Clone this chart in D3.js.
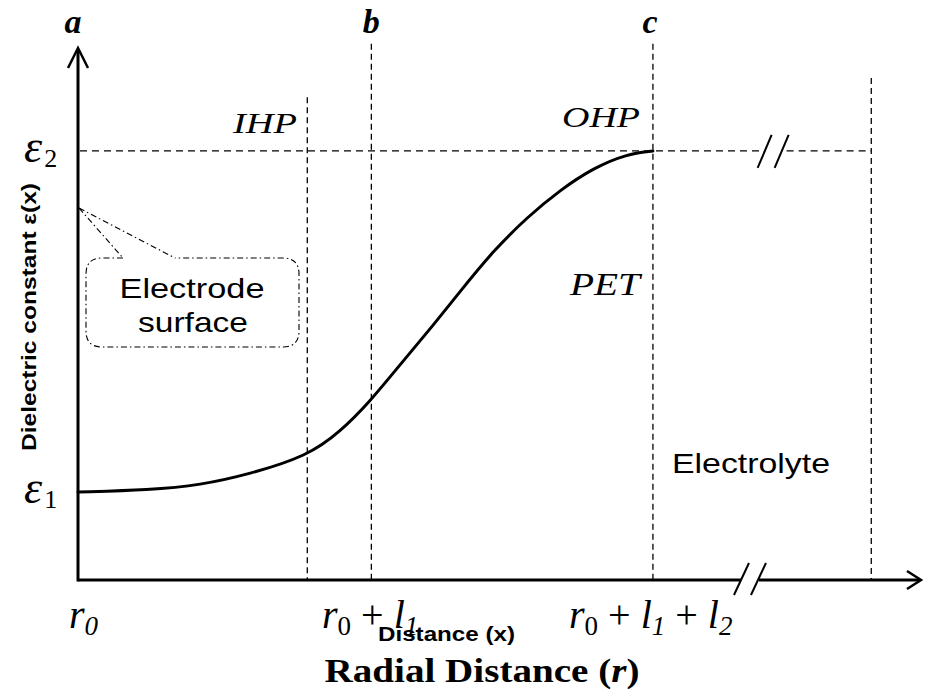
<!DOCTYPE html>
<html>
<head>
<meta charset="utf-8">
<script src="https://cdn.jsdelivr.net/npm/d3@7/dist/d3.min.js"></script>
<style>
  html, body { margin: 0; padding: 0; background: #fff; }
  svg { display: block; }
</style>
</head>
<body>
<svg id="chart" width="926" height="696"></svg>
<script>
// Radial distance (arbitrary units) and dielectric constant profile
const curveR   = [0, 0.85, 1.45, 2.04, 2.72, 3.11, 3.48, 3.74, 4.14, 4.53, 4.92, 5.33, 5.72, 6.11, 6.51, 6.82];
const curveEps = [2.05, 2.10, 2.21, 2.47, 2.89, 3.45, 4.20, 4.83, 5.76, 6.72, 7.66, 8.46, 9.09, 9.60, 9.93, 10];

// Boundary planes: IHP, b (r0 + l1), c (r0 + l1 + l2), far electrolyte
const planeNames = ["IHP", "b", "c", "far"];
const planePos   = [2.72, 3.48, 6.82, 9.41];
const planeTop   = [11.25, 12.5, 12.5, 11.7];

// Dielectric constant levels
const epsNames  = ["ε1", "ε2"];
const epsLevels = [2.05, 10];

// Axis extents
const rMax = 10;
const epsMax = 12.4;

const svg = d3.select("#chart");
const x = d3.scaleLinear().domain([0, rMax]).range([78, 921]);
const y = d3.scaleLinear().domain([0, epsMax]).range([580, 48]);

const serif = "'Liberation Serif', 'Times New Roman', serif";
const sans  = "'Liberation Sans', Arial, sans-serif";

// ---- dashed guide lines ----
const g = svg.append("g");
planePos.forEach((p, i) => {
  g.append("line")
    .attr("x1", x(p)).attr("x2", x(p))
    .attr("y1", y(planeTop[i])).attr("y2", y(0))
    .attr("stroke", "#000").attr("stroke-width", 1.3)
    .attr("stroke-dasharray", "6,4");
});

// ε2 level with a break
const brk = 8.24; // position of the break on the ε2 line
g.append("line")
  .attr("x1", x(0) + 2).attr("x2", x(brk) - 8)
  .attr("y1", y(epsLevels[1])).attr("y2", y(epsLevels[1]))
  .attr("stroke", "#000").attr("stroke-width", 1.3).attr("stroke-dasharray", "7,5");
g.append("line")
  .attr("x1", x(brk) + 14).attr("x2", x(planePos[3]))
  .attr("y1", y(epsLevels[1])).attr("y2", y(epsLevels[1]))
  .attr("stroke", "#000").attr("stroke-width", 1.3).attr("stroke-dasharray", "7,5");
[-8, 9].forEach(dx => {
  g.append("line")
    .attr("x1", x(brk) + dx - 7).attr("y1", y(epsLevels[1]) + 17)
    .attr("x2", x(brk) + dx + 7).attr("y2", y(epsLevels[1]) - 16)
    .attr("stroke", "#000").attr("stroke-width", 2);
});

// ---- axes ----
const axis = svg.append("g").attr("stroke", "#000").attr("fill", "none")
  .attr("stroke-width", 3);
axis.append("line").attr("x1", x(0)).attr("x2", x(0)).attr("y1", y(0) + 1.5).attr("y2", y(epsMax) + 1);
// x axis with a break
const xb = 7.9;
axis.append("line").attr("x1", x(0)).attr("x2", x(xb) - 3).attr("y1", y(0)).attr("y2", y(0));
axis.append("line").attr("x1", x(xb) + 15).attr("x2", x(rMax) - 1).attr("y1", y(0)).attr("y2", y(0));
[-2, 15].forEach(dx => {
  axis.append("line")
    .attr("x1", x(xb) + dx - 8).attr("y1", y(0) + 15)
    .attr("x2", x(xb) + dx + 7).attr("y2", y(0) - 17)
    .attr("stroke-width", 2);
});
// arrowheads
axis.append("path")
  .attr("d", `M${x(0) - 10},${y(epsMax) + 20} L${x(0)},${y(epsMax)} L${x(0) + 10},${y(epsMax) + 20}`)
  .attr("stroke-width", 2.5).attr("stroke-linejoin", "miter");
axis.append("path")
  .attr("d", `M${x(rMax) - 14},${y(0) - 9} L${x(rMax)},${y(0)} L${x(rMax) - 14},${y(0) + 9}`)
  .attr("stroke-width", 2.5).attr("stroke-linejoin", "miter");

// ---- dielectric profile ----
const pts = curveR.map((r, i) => [r, curveEps[i]]);
svg.append("path")
  .datum(pts)
  .attr("fill", "none").attr("stroke", "#000").attr("stroke-width", 3)
  .attr("stroke-linecap", "round")
  .attr("d", d3.line().x(d => x(d[0])).y(d => y(d[1])).curve(d3.curveBasis));

// ---- electrode surface callout ----
const ax = x(0) + 1, ay = y(8.67);
const call = svg.append("g").attr("fill", "none").attr("stroke", "#000")
  .attr("stroke-width", 1.1).attr("stroke-dasharray", "6,3,1.5,3");
call.append("path").attr("d", `M${ax},${ay} L${ax + 44},${ay + 50}`);
call.append("path").attr("d", `M${ax},${ay} L${ax + 96},${ay + 50}`);
const bx0 = 86, bx1 = 299, by0 = ay + 50, by1 = 347, rr = 16;
call.append("path").attr("d",
  `M${ax + 44},${by0} L${bx0 + rr},${by0} Q${bx0},${by0} ${bx0},${by0 + rr} ` +
  `L${bx0},${by1 - rr} Q${bx0},${by1} ${bx0 + rr},${by1} ` +
  `L${bx1 - rr},${by1} Q${bx1},${by1} ${bx1},${by1 - rr} ` +
  `L${bx1},${by0 + rr} Q${bx1},${by0} ${bx1 - rr},${by0} L${ax + 96},${by0}`);
svg.append("text").attr("x", 192).attr("y", 298).attr("text-anchor", "middle")
  .attr("font-family", sans).attr("font-size", 28)
  .attr("textLength", 145).attr("lengthAdjust", "spacingAndGlyphs").text("Electrode");
svg.append("text").attr("x", 193).attr("y", 332).attr("text-anchor", "middle")
  .attr("font-family", sans).attr("font-size", 28)
  .attr("textLength", 110).attr("lengthAdjust", "spacingAndGlyphs").text("surface");

// ---- region labels ----
function label(txt, px, py, opts) {
  const t = svg.append("text").attr("x", px).attr("y", py)
    .attr("font-family", opts.family || serif)
    .attr("font-size", opts.size)
    .attr("font-style", opts.style || "normal")
    .attr("font-weight", opts.weight || "normal")
    .attr("text-anchor", opts.anchor || "start");
  if (opts.len) t.attr("textLength", opts.len).attr("lengthAdjust", "spacingAndGlyphs");
  t.text(txt);
  return t;
}
label("a", 73, 33, { size: 34, style: "italic", weight: "bold", anchor: "middle" });
label("b", x(planePos[1]), 33, { size: 34, style: "italic", weight: "bold", anchor: "middle" });
label("c", x(planePos[2]) - 3, 33, { size: 34, style: "italic", weight: "bold", anchor: "middle" });
label("IHP", 233, 133, { size: 30, style: "italic", len: 64 });
label("OHP", 562, 127, { size: 30, style: "italic", len: 78 });
label("PET", 570, 295, { size: 32, style: "italic", len: 70 });
label("Electrolyte", 672, 473, { size: 28, family: sans, len: 158 });

// ---- epsilon tick labels ----
epsLevels.forEach((v, i) => {
  const t = svg.append("text").attr("x", 24).attr("y", y(v) + 11)
    .attr("font-family", serif).attr("font-size", 46).attr("font-style", "italic");
  t.append("tspan").text("ε");
  t.append("tspan").attr("font-size", 26).attr("font-style", "normal").attr("dx", 2)
    .attr("dy", 5).text(epsNames[i].slice(1));
});

// ---- r tick labels ----
function rLabel(px, parts) {
  const t = svg.append("text").attr("x", px).attr("y", 628)
    .attr("font-family", serif).attr("font-size", 40);
  parts.forEach(p => {
    const s = t.append("tspan").text(p.t);
    if (p.i) s.attr("font-style", "italic");
    if (p.sub) s.attr("font-size", 27).attr("dy", 7);
    if (p.up) s.attr("dy", -7);
    if (p.dx) s.attr("dx", p.dx);
  });
}
rLabel(69, [{ t: "r", i: true }, { t: "0", i: true, sub: true }]);
rLabel(322, [{ t: "r", i: true }, { t: "0", sub: true }, { t: " + ", up: true }, { t: "l", i: true }, { t: "1", i: true, sub: true }]);
rLabel(569, [{ t: "r", i: true }, { t: "0", sub: true }, { t: " + ", up: true }, { t: "l", i: true }, { t: "1", i: true, sub: true },
             { t: " + ", up: true }, { t: "l", i: true }, { t: "2", i: true, sub: true }]);

// ---- axis titles ----
label("Distance (x)", 378, 641, { size: 20, family: sans, weight: "bold", len: 137 });
const rt = svg.append("text").attr("x", 482).attr("y", 682).attr("text-anchor", "middle")
  .attr("font-family", serif).attr("font-size", 33).attr("font-weight", "bold")
  .attr("textLength", 315).attr("lengthAdjust", "spacingAndGlyphs");
rt.append("tspan").text("Radial Distance (");
rt.append("tspan").attr("font-style", "italic").text("r");
rt.append("tspan").text(")");
svg.append("text")
  .attr("transform", "translate(36,317) rotate(-90)")
  .attr("text-anchor", "middle")
  .attr("font-family", sans).attr("font-size", 21).attr("font-weight", "bold")
  .attr("textLength", 268).attr("lengthAdjust", "spacingAndGlyphs")
  .text("Dielectric constant ε(x)");
</script>
</body>
</html>
